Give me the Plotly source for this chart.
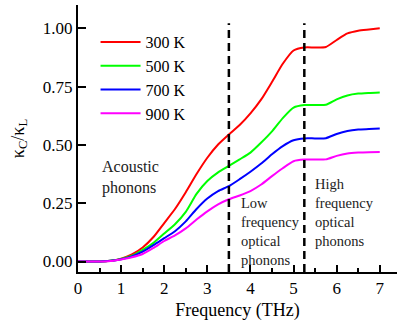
import plotly.graph_objects as go

freq = [0, 0.25, 0.5, 0.75, 1.0, 1.25, 1.5, 1.75, 2.0, 2.25, 2.5, 2.75, 3.0, 3.25, 3.5,
        3.75, 4.0, 4.25, 4.5, 4.75, 5.0, 5.25, 5.5, 5.75, 6.0, 6.25, 6.5, 6.75, 7.0]

k300 = [0, 0, 0, 0.003, 0.012, 0.03, 0.06, 0.105, 0.165, 0.225, 0.297, 0.375, 0.445, 0.502, 0.545,
        0.585, 0.635, 0.695, 0.77, 0.848, 0.905, 0.918, 0.918, 0.92, 0.95, 0.978, 0.99, 0.995, 1.0]
k500 = [0, 0, 0, 0.003, 0.011, 0.025, 0.05, 0.08, 0.12, 0.16, 0.213, 0.29, 0.345, 0.382, 0.41,
        0.438, 0.467, 0.51, 0.558, 0.615, 0.66, 0.671, 0.671, 0.672, 0.695, 0.712, 0.72, 0.723, 0.725]
k700 = [0, 0, 0, 0.003, 0.01, 0.022, 0.042, 0.07, 0.10, 0.13, 0.172, 0.225, 0.27, 0.302, 0.323,
        0.353, 0.385, 0.42, 0.46, 0.495, 0.52, 0.528, 0.528, 0.529, 0.547, 0.56, 0.566, 0.568, 0.57]
k900 = [0, 0, 0, 0.002, 0.009, 0.018, 0.032, 0.058, 0.088, 0.112, 0.142, 0.18, 0.215, 0.245, 0.267,
        0.283, 0.302, 0.33, 0.366, 0.40, 0.43, 0.437, 0.437, 0.438, 0.453, 0.463, 0.467, 0.469, 0.47]

series_names = ["300 K", "500 K", "700 K", "900 K"]
series_values = [k300, k500, k700, k900]
colors = ["#ff0000", "#00ff00", "#0000ff", "#ff00ff"]

boundaries = [3.5, 5.25]
region_labels = [
    (0.51, 0.452, "Acoustic<br>phonons", 16),
    (3.73, 0.295, "Low<br>frequency<br>optical<br>phonons", 14.5),
    (5.45, 0.374, "High<br>frequency<br>optical<br>phonons", 14.5),
]

FONT = "Times New Roman, Liberation Serif, serif"

fig = go.Figure()
for i, (name, vals) in enumerate(zip(series_names, series_values)):
    fig.add_trace(go.Scatter(
        x=freq, y=vals, mode="lines", name=name, legendgroup=name,
        line=dict(color=colors[i], width=2, shape="spline", smoothing=0.55),
    ))

for b in boundaries:
    fig.add_shape(type="line", x0=b, x1=b, y0=-0.045, y1=1.022, xref="x", yref="y",
                  line=dict(color="black", width=2.5, dash="8px,5px"))

for x, y, t, s in region_labels:
    fig.add_annotation(x=x, y=y, xref="x", yref="y", text=t, showarrow=False,
                       xanchor="left", yanchor="top", align="left",
                       font=dict(family=FONT, size=s, color="#222"))

fig.update_layout(
    width=398, height=324,
    margin=dict(l=78, r=1, t=5, b=52),
    paper_bgcolor="white", plot_bgcolor="white",
    font=dict(family=FONT, size=17, color="black"),
    showlegend=True,
    legend=dict(x=0.055, y=0.925, xanchor="left", yanchor="top",
                bgcolor="rgba(0,0,0,0)", font=dict(family=FONT, size=16, color="black"),
                tracegroupgap=0, itemwidth=40),
    xaxis=dict(range=[0, 7.4], tickvals=[0, 1, 2, 3, 4, 5, 6, 7], ticks="inside",
               ticklen=7, tickwidth=1.5, tickcolor="black",
               minor=dict(tickvals=[0.5, 1.5, 2.5, 3.5, 4.5, 5.5, 6.5], ticks="inside",
                          ticklen=4, tickwidth=1.5, tickcolor="black"),
               showline=True, linecolor="black", linewidth=2, showgrid=False, zeroline=False,
               title=dict(text="Frequency (THz)", font=dict(family=FONT, size=18), standoff=6),
               tickfont=dict(family=FONT, size=17)),
    yaxis=dict(range=[-0.045, 1.10], tickvals=[0, 0.25, 0.5, 0.75, 1.0], tickformat=".2f",
               ticks="inside", ticklen=8, tickwidth=1.5, tickcolor="black",
               showline=True, linecolor="black", linewidth=2, showgrid=False, zeroline=False,
               title=dict(text="κ<sub>C</sub>/κ<sub>L</sub>", font=dict(family=FONT, size=18), standoff=14),
               tickfont=dict(family=FONT, size=17)),
)

fig.write_html("out.html")
